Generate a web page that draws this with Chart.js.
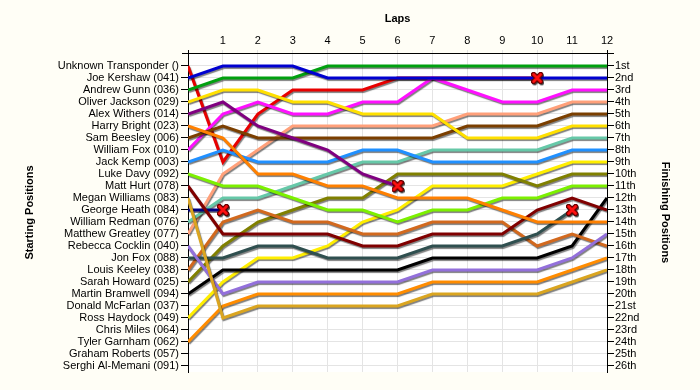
<!DOCTYPE html>
<html>
<head>
<meta charset="utf-8">
<script src="https://cdn.jsdelivr.net/npm/chart.js@4"></script>
<style>
  html, body { margin: 0; padding: 0; background: #fffef6; }
  #wrap { width: 700px; height: 390px; }
</style>
</head>
<body>
<div id="wrap"><canvas id="lapChart" width="700" height="390"></canvas></div>
<script>
// laps along the top
const laps = [0, 1, 2, 3, 4, 5, 6, 7, 8, 9, 10, 11, 12];

// starting grid, position 1..26
const startNames = [
  'Unknown Transponder ()', 'Joe Kershaw (041)', 'Andrew Gunn (036)', 'Oliver Jackson (029)',
  'Alex Withers (014)', 'Harry Bright (023)', 'Sam Beesley (006)', 'William Fox (010)',
  'Jack Kemp (003)', 'Luke Davy (092)', 'Matt Hurt (078)', 'Megan Williams (083)',
  'George Heath (084)', 'William Redman (076)', 'Matthew Greatley (077)', 'Rebecca Cocklin (040)',
  'Jon Fox (088)', 'Louis Keeley (038)', 'Sarah Howard (025)', 'Martin Bramwell (094)',
  'Donald McFarlan (037)', 'Ross Haydock (049)', 'Chris Miles (064)', 'Tyler Garnham (062)',
  'Graham Roberts (057)', 'Serghi Al-Memani (091)'
];

const finishLabels = [
  '1st', '2nd', '3rd', '4th', '5th', '6th', '7th', '8th', '9th', '10th', '11th', '12th', '13th',
  '14th', '15th', '16th', '17th', '18th', '19th', '20th', '21st', '22nd', '23rd', '24th', '25th', '26th'
];

// position at each lap (shorter arrays = retired at last lap shown)
const unknownTransponder = [1, 9, 5, 3, 3, 3, 2, 2, 2, 2, 2];
const joeKershaw      = [2, 1, 1, 1, 2, 2, 2, 2, 2, 2, 2, 2, 2];
const andrewGunn      = [3, 2, 2, 2, 1, 1, 1, 1, 1, 1, 1, 1, 1];
const oliverJackson   = [4, 3, 3, 4, 4, 5, 5, 5, 7, 7, 7, 6, 6];
const alexWithers     = [5, 4, 6, 7, 8, 10, 11];
const harryBright     = [6, 7, 10, 10, 11, 11, 12, 12, 12, 13, 14, 14, 14];
const samBeesley      = [7, 6, 7, 7, 7, 7, 7, 7, 6, 6, 6, 5, 5];
const williamFox      = [8, 5, 4, 5, 5, 4, 4, 2, 3, 4, 4, 3, 3];
const jackKemp        = [9, 8, 9, 9, 9, 8, 8, 9, 9, 9, 9, 8, 8];
const lukeDavy        = [10, 11, 11, 12, 13, 13, 14, 13, 13, 12, 12, 11, 11];
const mattHurt        = [11, 15, 15, 15, 15, 16, 16, 15, 15, 15, 13, 12, 13];
const meganWilliams   = [12, 22, 21, 21, 21, 21, 21, 20, 20, 20, 20, 19, 18];
const georgeHeath     = [13, 13];
const williamRedman   = [14, 12, 12, 11, 10, 9, 9, 8, 8, 8, 8, 7, 7];
const matthewGreatley = [15, 10, 8, 6, 6, 6, 6, 6, 5, 5, 5, 4, 4];
const rebeccaCocklin  = [16, 20, 19, 19, 19, 19, 19, 18, 18, 18, 18, 17, 15];
const jonFox          = [17, 17, 16, 16, 17, 17, 17, 16, 16, 16, 15, 13];
const louisKeeley     = [18, 14, 13, 14, 14, 15, 15, 14, 14, 14, 16, 15, 16];
const sarahHoward     = [19, 16, 14, 13, 12, 12, 10, 10, 10, 10, 11, 10, 10];
const martinBramwell  = [20, 18, 18, 18, 18, 18, 18, 17, 17, 17, 17, 16, 12];
const rossHaydock     = [22, 19, 17, 17, 16, 14, 13, 11, 11, 11, 10, 9, 9];
const tylerGarnham    = [24, 21, 20, 20, 20, 20, 20, 19, 19, 19, 19, 18, 17];

const retired = [unknownTransponder, alexWithers, georgeHeath, jonFox];

(function() {
    'use strict';

    const FONT = "'Liberation Sans', Arial, sans-serif";
    const GRID = '#e4e4e4';

    // red cross used for a rider who dropped out
    const cross = document.createElement('canvas');
    cross.width = 12; cross.height = 12;
    (function() {
        const c = cross.getContext('2d');
        c.lineCap = 'round';
        function drawX(w, col) {
            c.strokeStyle = col; c.lineWidth = w;
            c.beginPath();
            c.moveTo(2.5, 2.5); c.lineTo(9.5, 9.5);
            c.moveTo(9.5, 2.5); c.lineTo(2.5, 9.5);
            c.stroke();
        }
        drawX(5, '#6a0000');
        drawX(2.8, '#ff1010');
    })();

    function rider(series, color, order) {
        const out = retired.indexOf(series) >= 0;
        return {
            data: series.map((p, i) => ({ x: laps[i], y: p })),
            borderColor: color,
            backgroundColor: color,
            borderWidth: 3,
            tension: 0,
            fill: false,
            pointStyle: cross,
            pointRadius: series.map((p, i) => (out && i === series.length - 1) ? 6 : 0),
            pointHoverRadius: 0,
            order: order || 0,
            _retired: out
        };
    }

    const datasets = [
        rider(joeKershaw, '#0000d0'),
        rider(andrewGunn, '#00a010'),
        rider(oliverJackson, '#ffe000'),
        rider(alexWithers, '#800080'),
        rider(harryBright, '#ff8000'),
        rider(samBeesley, '#7b3f00'),
        rider(williamFox, '#ff10ff'),
        rider(jackKemp, '#2090ff'),
        rider(lukeDavy, '#7cf000'),
        rider(mattHurt, '#800000'),
        rider(meganWilliams, '#daa520'),
        rider(georgeHeath, '#000080'),
        rider(williamRedman, '#66c8a8'),
        rider(matthewGreatley, '#ffa07a'),
        rider(rebeccaCocklin, '#9370db'),
        rider(jonFox, '#2f4f4f'),
        rider(louisKeeley, '#d2691e'),
        rider(sarahHoward, '#808000'),
        rider(martinBramwell, '#000000'),
        rider(rossHaydock, '#ffee00'),
        rider(tylerGarnham, '#ff8c00'),
        rider(unknownTransponder, '#e80000', 1)
    ];

    const shadow = {
        id: 'shadow',
        beforeDraw(chart) {
            const a = chart.chartArea, c = chart.ctx;
            c.save();
            c.fillStyle = '#ffffff';
            c.fillRect(a.left, a.top, a.right - a.left, a.bottom - a.top);
            c.restore();
        },
        beforeDatasetDraw(chart) {
            const c = chart.ctx;
            c.save();
            c.shadowColor = 'rgba(0,0,0,0.5)';
            c.shadowOffsetX = 1;
            c.shadowOffsetY = 1.5;
            c.shadowBlur = 1;
        },
        afterDatasetDraw(chart) {
            chart.ctx.restore();
        },
        afterDatasetsDraw(chart) {
            // crosses go on top of every line
            const c = chart.ctx;
            chart.data.datasets.forEach(function(ds, i) {
                if (!ds._retired) return;
                const meta = chart.getDatasetMeta(i);
                const pt = meta.data[meta.data.length - 1];
                c.save();
                c.shadowColor = 'rgba(0,0,0,0.4)';
                c.shadowOffsetX = 1;
                c.shadowOffsetY = 1;
                pt.draw(c, chart.chartArea);
                c.restore();
            });
        },
        afterDraw(chart) {
            const a = chart.chartArea, c = chart.ctx;
            c.save();
            c.strokeStyle = '#000';
            c.lineWidth = 1;
            c.beginPath();
            c.moveTo(a.left - 6, a.top + 0.5);
            c.lineTo(a.right + 7, a.top + 0.5);
            c.stroke();
            c.restore();
        }
    };

    const positions = finishLabels.map((s, i) => i + 1);
    function setTicks(scale) {
        scale.ticks = positions.map(v => ({ value: v }));
    }

    new Chart(document.getElementById('lapChart'), {
        type: 'line',
        data: { datasets: datasets },
        plugins: [shadow],
        options: {
            responsive: false,
            animation: false,
            devicePixelRatio: 1,
            layout: { padding: { left: 0, right: 0, top: 0, bottom: 18 } },
            plugins: {
                legend: { display: false },
                tooltip: { enabled: false }
            },
            font: { family: FONT, size: 11 },
            scales: {
                x: {
                    type: 'linear',
                    position: 'top',
                    min: 0,
                    max: 12,
                    afterBuildTicks: function(scale) {
                        scale.ticks = laps.map(v => ({ value: v }));
                    },
                    afterFit: function(scale) { scale.height = 53; },
                    ticks: {
                        color: '#000',
                        padding: 2,
                        maxRotation: 0,
                        font: { family: FONT, size: 11 },
                        callback: function(v) { return v === 0 ? '' : String(v); }
                    },
                    grid: {
                        color: GRID,
                        tickLength: 3,
                        tickColor: function(ctx) {
                            return (ctx.tick && (ctx.tick.value === 0 || ctx.tick.value === 12)) ? '#000' : GRID;
                        }
                    },
                    border: { color: '#000', width: 1 },
                    title: {
                        display: true,
                        text: 'Laps',
                        color: '#000',
                        font: { family: FONT, size: 11, weight: 'bold' },
                        padding: { top: 12.4, bottom: 0 }
                    }
                },
                y: {
                    type: 'linear',
                    position: 'left',
                    reverse: true,
                    min: -0.083,
                    max: 26.5,
                    afterBuildTicks: setTicks,
                    afterFit: function(scale) { scale.width = 188; },
                    ticks: {
                        color: '#000',
                        padding: 2,
                        autoSkip: false,
                        font: { family: FONT, size: 11 },
                        callback: function(v) { return startNames[v - 1] || ''; }
                    },
                    grid: { color: GRID, tickColor: '#000', tickLength: 7 },
                    border: { color: '#000', width: 1 },
                    title: {
                        display: true,
                        text: 'Starting Positions',
                        color: '#000',
                        font: { family: FONT, size: 11, weight: 'bold' },
                        padding: { top: 23.4, bottom: 0 }
                    }
                },
                y2: {
                    type: 'linear',
                    position: 'right',
                    reverse: true,
                    min: -0.083,
                    max: 26.5,
                    afterBuildTicks: setTicks,
                    afterFit: function(scale) { scale.width = 93; },
                    ticks: {
                        color: '#000',
                        padding: 1,
                        autoSkip: false,
                        font: { family: FONT, size: 11 },
                        callback: function(v) { return finishLabels[v - 1] || ''; }
                    },
                    grid: { drawOnChartArea: false, tickColor: '#000', tickLength: 7 },
                    border: { color: '#000', width: 1 },
                    title: {
                        display: true,
                        text: 'Finishing Positions',
                        color: '#000',
                        font: { family: FONT, size: 11, weight: 'bold' },
                        padding: { top: 28.4, bottom: 0 }
                    }
                }
            }
        }
    });
})();
</script>
</body>
</html>
